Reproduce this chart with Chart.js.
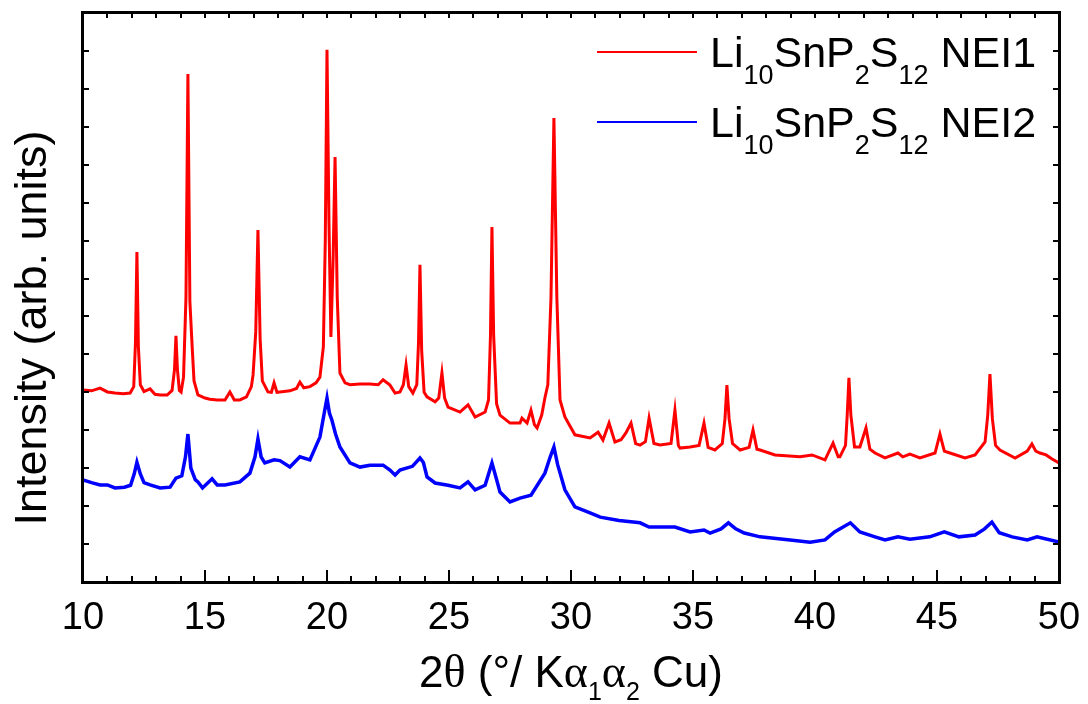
<!DOCTYPE html>
<html><head><meta charset="utf-8">
<script src="https://cdn.jsdelivr.net/npm/chart.js@4.4.0/dist/chart.umd.min.js"></script>
<style>html,body{margin:0;padding:0;background:#fff;overflow:hidden;} canvas{display:block;}</style>
</head><body>
<canvas id="c" width="1088" height="704"></canvas>
<script>
// ---- data (2θ in degrees, intensity in arbitrary units) ----
const twoThetaNEI1 = [10.00,10.35,10.70,11.00,11.31,11.65,11.93,12.08,12.15,12.21,12.27,12.35,12.50,12.75,12.95,13.16,13.45,13.65,13.75,13.81,13.87,13.95,14.02,14.12,14.22,14.30,14.38,14.47,14.55,14.71,15.00,15.20,15.50,15.82,16.02,16.20,16.43,16.70,16.90,16.97,17.08,17.17,17.26,17.35,17.58,17.72,17.83,17.95,18.07,18.48,18.75,18.89,19.05,19.30,19.55,19.71,19.85,19.93,20.00,20.08,20.16,20.25,20.33,20.42,20.53,20.74,20.94,21.35,21.76,22.10,22.30,22.58,22.79,22.99,23.13,23.24,23.35,23.52,23.68,23.75,23.81,23.88,23.98,24.10,24.43,24.58,24.71,24.82,24.96,25.45,25.78,26.07,26.48,26.62,26.70,26.76,26.83,26.95,27.09,27.50,27.91,27.99,28.20,28.36,28.50,28.61,28.80,28.93,29.05,29.18,29.30,29.42,29.55,29.75,30.16,30.78,31.11,31.31,31.56,31.80,32.05,32.25,32.46,32.65,32.83,33.05,33.20,33.40,33.65,34.10,34.26,34.40,34.47,34.88,35.25,35.45,35.62,35.90,36.20,36.31,36.39,36.48,36.62,36.93,37.30,37.46,37.62,37.75,38.36,39.39,39.88,40.41,40.74,40.95,41.02,41.25,41.32,41.39,41.47,41.62,41.84,42.09,42.25,42.46,42.87,43.40,43.60,43.89,44.30,44.92,45.12,45.30,45.53,46.15,46.56,46.97,47.08,47.17,47.27,47.40,47.58,48.20,48.70,48.89,49.05,49.22,49.47,49.70,50.00];
const intensityNEI1 = [5.06,5.04,5.11,5.01,4.98,4.96,4.98,5.15,6.30,8.70,6.20,5.20,5.02,5.09,4.95,4.93,4.93,5.05,5.60,6.49,5.60,5.05,5.01,5.40,7.50,13.39,7.40,6.25,5.30,4.93,4.85,4.82,4.80,4.80,5.01,4.80,4.80,4.88,5.15,5.46,6.60,9.28,6.40,5.30,5.01,5.00,5.25,5.00,5.01,5.04,5.10,5.27,5.12,5.15,5.25,5.40,6.20,9.00,14.03,9.50,6.46,8.50,11.20,7.50,5.51,5.25,5.20,5.22,5.22,5.20,5.33,5.19,4.98,5.01,5.20,5.72,5.15,4.98,5.20,6.30,8.36,6.10,5.00,4.88,4.75,4.85,5.51,4.85,4.61,4.48,4.67,4.35,4.48,4.80,6.50,9.36,6.50,4.70,4.40,4.19,4.19,4.32,4.19,4.53,4.15,4.06,4.40,4.85,5.20,7.50,12.23,7.50,4.80,4.35,3.88,3.80,3.95,3.74,4.19,3.69,3.75,3.93,4.19,3.65,3.61,3.70,4.32,3.65,3.61,3.65,4.53,3.60,3.53,3.56,3.60,4.19,3.55,3.48,3.65,4.30,5.19,4.30,3.65,3.48,3.55,4.01,3.50,3.48,3.35,3.30,3.35,3.22,3.66,3.30,3.30,3.60,4.40,5.38,4.40,3.56,3.56,4.06,3.50,3.40,3.27,3.40,3.30,3.37,3.27,3.40,3.90,3.45,3.40,3.27,3.35,3.69,4.40,5.48,4.30,3.60,3.48,3.27,3.45,3.64,3.45,3.40,3.35,3.25,3.14];

const twoThetaNEI2 = [10.00,10.35,10.70,11.00,11.31,11.70,11.95,12.10,12.21,12.35,12.50,12.75,13.16,13.57,13.81,14.05,14.20,14.30,14.42,14.60,14.71,14.90,15.29,15.50,15.82,16.43,16.84,17.05,17.17,17.30,17.45,17.83,18.07,18.48,18.89,19.30,19.71,19.90,20.00,20.10,20.20,20.35,20.53,20.94,21.35,21.76,22.30,22.58,22.79,22.99,23.50,23.81,23.95,24.10,24.43,24.96,25.45,25.78,26.07,26.48,26.76,26.95,27.09,27.50,27.91,28.36,28.93,29.15,29.30,29.45,29.75,30.16,30.78,31.20,31.97,32.83,33.20,34.26,34.88,35.45,35.70,36.15,36.45,36.75,37.10,37.75,38.98,39.80,40.41,40.80,41.45,41.84,42.46,42.87,43.40,43.89,44.70,45.30,45.90,46.56,46.95,47.25,47.55,48.08,48.70,49.10,50.00];
const intensityNEI2 = [2.69,2.62,2.56,2.56,2.48,2.50,2.55,2.85,3.16,2.85,2.62,2.56,2.48,2.50,2.74,2.80,3.30,3.90,3.00,2.70,2.64,2.48,2.72,2.56,2.56,2.64,2.87,3.30,3.77,3.30,3.14,3.22,3.20,3.03,3.30,3.22,3.82,4.50,4.85,4.45,4.27,3.90,3.56,3.14,3.03,3.08,3.08,2.95,2.82,2.95,3.05,3.27,3.15,2.77,2.61,2.55,2.48,2.64,2.43,2.55,3.14,2.70,2.37,2.11,2.21,2.29,2.87,3.30,3.56,3.10,2.43,1.98,1.82,1.71,1.62,1.56,1.45,1.45,1.32,1.37,1.29,1.40,1.56,1.40,1.29,1.19,1.11,1.05,1.11,1.32,1.56,1.32,1.19,1.11,1.19,1.13,1.19,1.32,1.19,1.24,1.40,1.58,1.30,1.19,1.11,1.19,1.05];

const seriesColors = ['#ff0000', '#0000ff'];
const seriesLabels = ['Li10SnP2S12 NEI1', 'Li10SnP2S12 NEI2'];
// label pieces with subscripts: [text, isSubscript]
const seriesLabelParts = [
  [['Li',0],['10',1],['SnP',0],['2',1],['S',0],['12',1],[' NEI1',0]],
  [['Li',0],['10',1],['SnP',0],['2',1],['S',0],['12',1],[' NEI2',0]]
];
const xTitleParts = [['2','m'],['θ','s'],[' (°/ K','m'],['α','s'],['1','b'],['α','s'],['2','b'],[' Cu)','m']];
const yTitle = 'Intensity (arb. units)';
const xMin = 10, xMax = 50, xMajorStep = 5, xMinorStep = 1;
const yMin = 0, yMax = 15, yStep = 1;

function toPoints(xs, ys){ return xs.map((x,i)=>({x:x, y:ys[i]})); }

const SANS = '"Liberation Sans", Arial, sans-serif';
const SERIF = '"Liberation Serif", "Times New Roman", serif';

const decor = {
  id: 'decor',
  afterDraw(chart){
    const ctx = chart.ctx, a = chart.chartArea;
    const xs = chart.scales.x, ys = chart.scales.y;
    const L = Math.round(a.left), R = Math.round(a.right), T = Math.round(a.top), B = Math.round(a.bottom);
    ctx.save();
    // frame, 3 px on every side
    ctx.fillStyle = '#000';
    ctx.fillRect(L - 2, T - 2, R - L + 4, 3);   // top
    ctx.fillRect(L - 2, B - 1, R - L + 4, 3);   // bottom
    ctx.fillRect(L - 2, T - 2, 3, B - T + 4);   // left
    ctx.fillRect(R - 1, T - 2, 3, B - T + 4);   // right
    // inward ticks
    ctx.strokeStyle = '#000';
    ctx.lineWidth = 2;
    ctx.beginPath();
    for (let v = xMin; v <= xMax + 1e-9; v += xMinorStep) {
      const px = Math.round(xs.getPixelForValue(v));
      const major = Math.abs(v % xMajorStep) < 1e-9;
      const len = major ? 12 : 6;
      ctx.moveTo(px, B); ctx.lineTo(px, B - len);
      ctx.moveTo(px, T); ctx.lineTo(px, T + 5);
    }
    ys.ticks.forEach(t => {
      const py = Math.round(ys.getPixelForValue(t.value));
      ctx.moveTo(L, py); ctx.lineTo(L + 6, py);
      ctx.moveTo(R, py); ctx.lineTo(R - 6, py);
    });
    ctx.stroke();

    ctx.fillStyle = '#000';
    ctx.textBaseline = 'alphabetic';
    // legend
    const mainF = '43px ' + SANS, subF = '27px ' + SANS;
    seriesLabelParts.forEach((parts, i) => {
      const base = 67 + i * 70;
      ctx.strokeStyle = seriesColors[i];
      ctx.lineWidth = 2;
      ctx.beginPath(); ctx.moveTo(597, base - 15); ctx.lineTo(697, base - 15); ctx.stroke();
      let x = 710;
      parts.forEach(([t, sub]) => {
        ctx.font = sub ? subF : mainF;
        ctx.fillText(t, x, base + (sub ? 17 : 0));
        x += ctx.measureText(t).width;
      });
    });
    // x title
    const fonts = { m: '44px ' + SANS, s: '46px ' + SERIF, b: '25px ' + SANS };
    let w = 0;
    xTitleParts.forEach(([t, k]) => { ctx.font = fonts[k]; w += ctx.measureText(t).width; });
    let x = (a.left + a.right) / 2 - w / 2;
    const base = 687;
    xTitleParts.forEach(([t, k]) => {
      ctx.font = fonts[k];
      ctx.fillText(t, x, base + (k === 'b' ? 13 : 0));
      x += ctx.measureText(t).width;
    });
    // y title
    ctx.translate(46, 328);
    ctx.rotate(-Math.PI / 2);
    ctx.font = '45px ' + SANS;
    ctx.textAlign = 'center';
    ctx.fillText(yTitle, 0, 0);
    ctx.restore();
  }
};

new Chart(document.getElementById('c'), {
  type: 'line',
  data: {
    datasets: [
      { label: seriesLabels[0], data: toPoints(twoThetaNEI1, intensityNEI1), borderColor: seriesColors[0], borderWidth: 3, pointRadius: 0, tension: 0, fill: false },
      { label: seriesLabels[1], data: toPoints(twoThetaNEI2, intensityNEI2), borderColor: seriesColors[1], borderWidth: 3.5, pointRadius: 0, tension: 0, fill: false }
    ]
  },
  options: {
    responsive: false,
    animation: false,
    devicePixelRatio: 1,
    layout: { padding: { top: 13, right: 29, left: 0, bottom: 0 } },
    plugins: { legend: { display: false }, tooltip: { enabled: false } },
    scales: {
      x: {
        type: 'linear', min: xMin, max: xMax,
        grid: { display: false }, border: { display: false },
        ticks: { stepSize: xMajorStep, color: '#000', font: { size: 38, family: SANS }, padding: 6, maxRotation: 0 },
        afterFit(s){ s.height = 122; }
      },
      y: {
        min: yMin, max: yMax,
        grid: { display: false }, border: { display: false },
        ticks: { stepSize: yStep, display: false },
        afterFit(s){ s.width = 83; }
      }
    }
  },
  plugins: [decor]
});
</script>
</body></html>
